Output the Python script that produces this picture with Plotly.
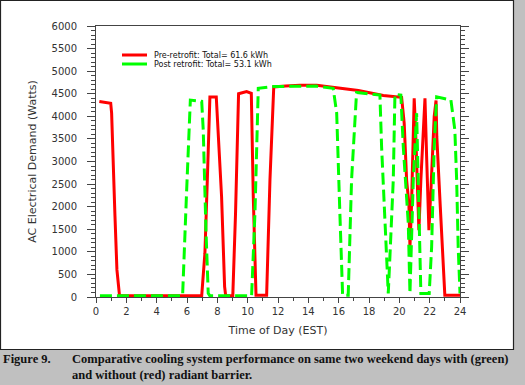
import plotly.graph_objects as go

# Pre-retrofit (red, solid)
pre_hours = [0.22, 0.97, 1.03, 1.12, 1.25, 1.38, 1.48, 1.55,
             6.97, 7.18, 7.34, 7.47, 7.51, 7.93, 8.06, 8.28, 8.48, 8.55,
             9.02, 9.20, 9.40, 9.93, 10.24, 10.37, 10.55,
             11.25, 11.47, 11.72, 12.5, 13.45, 14.55, 15.5, 16.74, 17.3, 18.94, 20.15,
             20.32, 20.48, 20.63, 20.70, 20.80, 20.91, 20.98, 21.07, 21.20, 21.29,
             21.42, 21.58, 21.69, 21.80, 21.95, 22.10, 22.30, 22.42, 22.47, 22.70,
             22.90, 23.0, 24.0]
pre_watts = [4330, 4290, 4070, 3000, 1800, 600, 250, 30,
             30, 970, 2590, 4070, 4430, 4430, 3700, 2220, 230, 30,
             30, 1850, 4500, 4550, 4510, 2220, 40,
             40, 2590, 4650, 4670, 4690, 4690, 4650, 4590, 4570, 4460, 4420,
             3850, 2590, 2070, 1110, 2000, 3330, 4400, 3700, 2590, 1480,
             2590, 3770, 4400, 3100, 1480, 2500, 4000, 4350, 3550, 2000,
             600, 40, 40]

# Post-retrofit (green, dashed)
post_hours = [0.26, 5.71, 5.97, 6.22, 6.97, 7.07, 7.25, 7.40, 7.5,
              10.26, 10.48, 10.70, 11.69, 13.0, 14.5, 15.64, 15.87, 16.08, 16.26,
              16.63, 16.85, 17.18, 18.72, 18.83, 19.16, 19.27, 19.38, 19.60, 19.71,
              20.10, 20.26, 20.59, 20.70, 20.92, 21.14, 21.25, 21.42, 21.97, 22.13,
              22.30, 22.46, 23.40, 23.66, 23.78, 23.88, 24.0]
post_watts = [30, 30, 2300, 4360, 4330, 3700, 1480, 80, 30,
              30, 1850, 4620, 4660, 4670, 4670, 4620, 4070, 1850, 40,
              40, 2590, 4530, 4470, 3330, 670, 80, 900, 2590, 4490,
              4470, 3330, 1630, 80, 2590, 4070, 2590, 80, 80, 1110,
              3330, 4430, 4360, 3700, 2590, 1110, 80]

legend_labels = ["Pre-retrofit: Total= 61.6 kWh", "Post retrofit: Total= 53.1 kWh"]
x_ticks = list(range(0, 25, 2))
y_ticks = list(range(0, 6001, 500))

RED = "#ff0000"
GREEN = "#00ff00"

fig = go.Figure()
fig.add_trace(go.Scatter(x=pre_hours, y=pre_watts, mode="lines",
                         line=dict(color=RED, width=3), name=legend_labels[0],
                         showlegend=False))
fig.add_trace(go.Scatter(x=post_hours, y=post_watts, mode="lines",
                         line=dict(color=GREEN, width=3, dash="12px,5px"),
                         name=legend_labels[1], showlegend=False))

# plot-area geometry in px: x 96..460, y 26..297
L, R, T, B = 96, 460, 26, 297
W, H = R - L, B - T
def px(x):
    return (x - L) / W
def py(y):
    return (B - y) / H

shapes = [
    dict(type="rect", xref="paper", yref="paper", x0=px(0.5), x1=px(513.5),
         y0=py(349.5), y1=py(0.5), fillcolor="white",
         line=dict(color="#222", width=1.2), layer="below"),
    dict(type="line", xref="paper", yref="paper", x0=px(122), x1=px(147),
         y0=py(55), y1=py(55), line=dict(color=RED, width=3)),
    dict(type="line", xref="paper", yref="paper", x0=px(122), x1=px(147),
         y0=py(64), y1=py(64), line=dict(color=GREEN, width=3)),
]

leg_font = dict(family="DejaVu Sans", size=8, color="#111")
cap_font = dict(family="Liberation Serif", size=12.5, color="#111")
annotations = [
    dict(xref="paper", yref="paper", x=px(152), y=py(55), text=legend_labels[0],
         showarrow=False, xanchor="left", yanchor="middle", font=leg_font),
    dict(xref="paper", yref="paper", x=px(152), y=py(64), text=legend_labels[1],
         showarrow=False, xanchor="left", yanchor="middle", font=leg_font),
    dict(xref="paper", yref="paper", x=px(1), y=py(359), text="<b>Figure 9.</b>",
         showarrow=False, xanchor="left", yanchor="middle", font=cap_font),
    dict(xref="paper", yref="paper", x=px(70), y=py(367), align="left",
         text="<b>Comparative cooling system performance on same two weekend days with (green)</b>"
              "<br><b>and without (red) radiant barrier.</b>",
         showarrow=False, xanchor="left", yanchor="middle", font=cap_font),
]

axis_font = dict(family="DejaVu Sans", size=10, color="#333")
title_font = dict(family="DejaVu Sans", size=11, color="#333")
fig.update_layout(
    width=525, height=385,
    margin=dict(l=L, r=525 - R, t=T, b=385 - B, pad=0),
    paper_bgcolor="#c0c0c0", plot_bgcolor="white",
    shapes=shapes, annotations=annotations, showlegend=False,
    xaxis=dict(range=[0, 24], tickvals=x_ticks, ticks="outside", ticklen=5,
               tickcolor="#444", linecolor="#444", linewidth=1, mirror=True,
               showgrid=False, zeroline=False, tickfont=axis_font,
               minor=dict(dtick=1, ticks="outside", ticklen=3, tickcolor="#444"),
               title=dict(text="Time of Day (EST)", font=title_font, standoff=10)),
    yaxis=dict(range=[0, 6000], tickvals=y_ticks, ticks="outside", ticklen=8,
               tickcolor="#444", linecolor="#444", linewidth=1, mirror="ticks",
               showgrid=False, zeroline=False, tickfont=axis_font, ticklabelstandoff=8,
               minor=dict(dtick=100, ticks="outside", ticklen=4, tickcolor="#444"),
               title=dict(text="AC Electrical Demand (Watts)", font=title_font, standoff=12)),
)

fig.write_html("out.html", config={"displayModeBar": False},
               post_script="document.body.style.margin='0';document.body.style.overflow='hidden';")
